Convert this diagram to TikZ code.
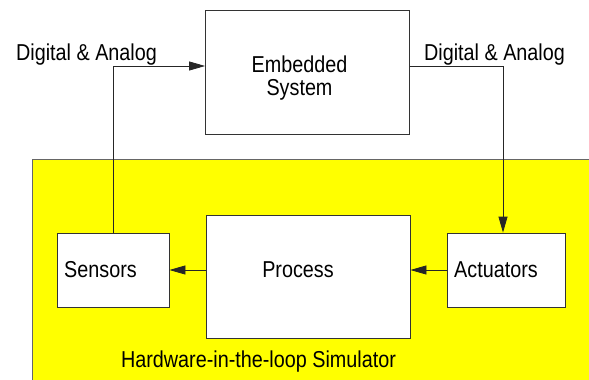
\documentclass[tikz,border=0pt]{standalone}
\usepackage{fontspec}
\setmainfont{Liberation Sans}[FakeStretch=0.86]
\usetikzlibrary{arrows.meta,calc}
\definecolor{simyellow}{RGB}{255,255,0}
\tikzset{
  box/.style={draw=black!80, fill=white, line width=0.8pt, inner sep=0pt},
  lbl/.style={font=\fontsize{23}{23}\selectfont, inner sep=0pt, align=center, anchor=base},
  arr/.style={draw=black!85, line width=0.8pt, -{Triangle[length=16pt,width=9pt]}},
}
\begin{document}
\begin{tikzpicture}[x=1pt,y=-1pt]
  \useasboundingbox (0,0) rectangle (589,380);
  \clip (0,0) rectangle (589,380);
  % simulator area
  \filldraw[fill=simyellow, draw=black!60, line width=0.8pt] (32,159) rectangle (620,420);
  % blocks
  \node[box, minimum width=204pt, minimum height=124pt] (emb) at (307.5,72) {};
  \node[box, minimum width=112pt, minimum height=74pt] (sen) at (113,270) {};
  \node[box, minimum width=204pt, minimum height=123pt] (proc) at (308,276.5) {};
  \node[box, minimum width=118pt, minimum height=74pt] (act) at (506,270) {};
  % block texts (base anchor = baseline of the last line)
  \node[lbl] (embT) at (299.5,95) {Embedded\\System};
  \node[lbl] (senT) at (100.5,277) {Sensors};
  \node[lbl] (procT) at (298,277) {Process};
  \node[lbl] (actT) at (496,277) {Actuators};
  \node[lbl] (sim) at (258.5,367) {Hardware-in-the-loop Simulator};
  \node[lbl] (inL) at (86.5,60) {Digital \& Analog};
  \node[lbl] (outL) at (494.5,60) {Digital \& Analog};
  % signal flow
  \draw[arr] (sen.north) |- ([yshift=6pt]emb.west);
  \draw[arr] ([yshift=6pt]emb.east) -| ([xshift=-3pt]act.north);
  \draw[arr] (act.west) -- (proc.east |- act.west);
  \draw[arr] (proc.west |- sen.east) -- (sen.east);
\end{tikzpicture}
\end{document}
